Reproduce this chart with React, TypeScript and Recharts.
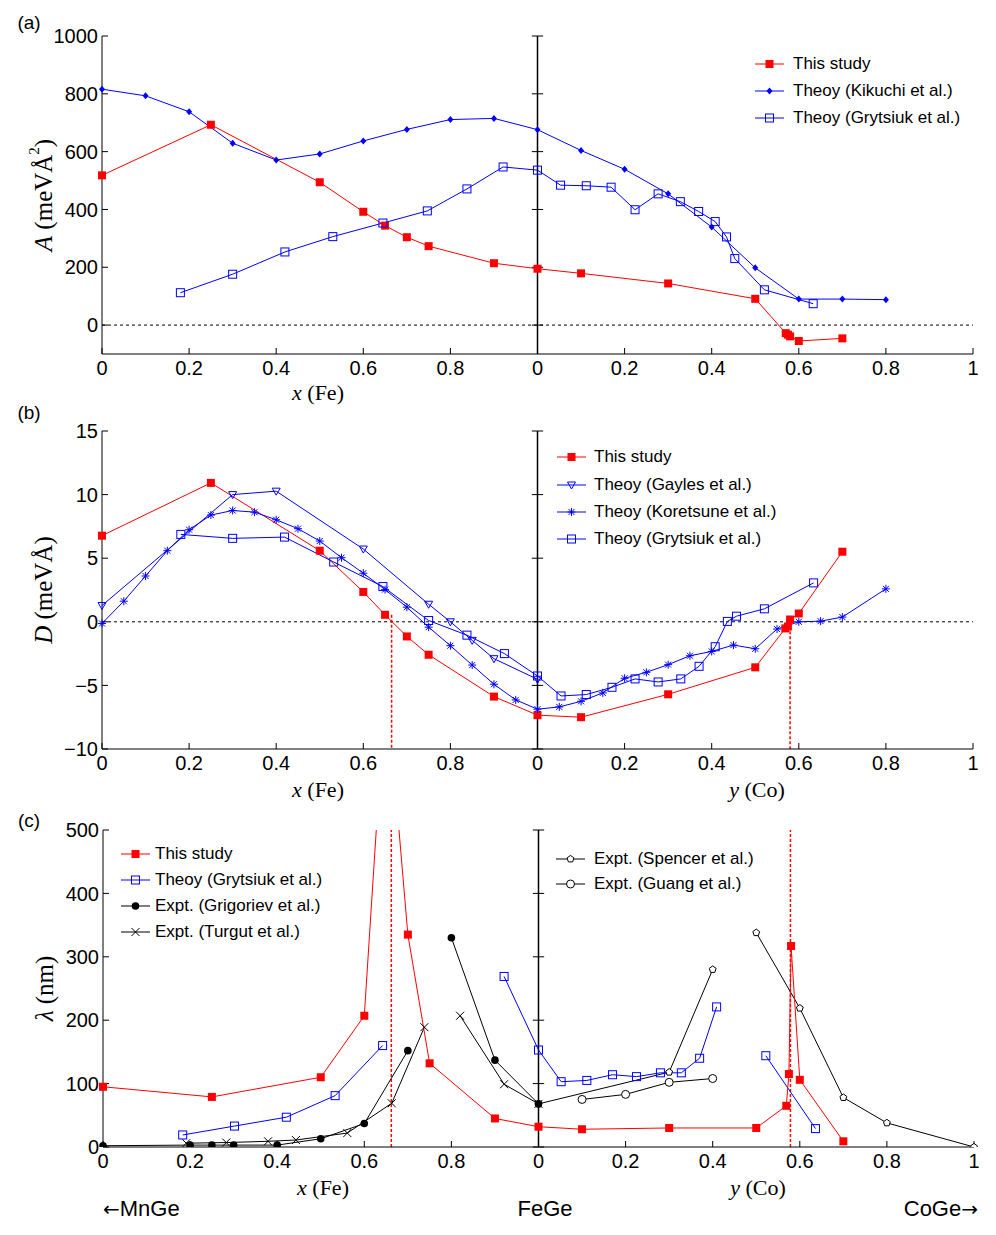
import React from 'react';
import { LineChart, Line, XAxis, YAxis, ReferenceLine } from 'recharts';

const SANS = '"Liberation Sans", Arial, Helvetica, sans-serif';
const SERIF = '"Liberation Serif", "Times New Roman", serif';
const RED = '#ff0000';
const BLUE = '#0000ff';
const BLACK = '#000000';

// shared x axis: 0..1 is x (Fe), 1..2 is y (Co)
const X_TICKS = [0, 0.2, 0.4, 0.6, 0.8, 1, 1.2, 1.4, 1.6, 1.8, 2];
const X_TICK_LABELS = ['0', '0.2', '0.4', '0.6', '0.8', '0', '0.2', '0.4', '0.6', '0.8', '1'];
const A_TICKS = [0, 200, 400, 600, 800, 1000];
const D_TICKS = [-10, -5, 0, 5, 10, 15];
const L_TICKS = [0, 100, 200, 300, 400, 500];

// ---- (a) stiffness A ----
const aStudyFe = [0, 0.25, 0.5, 0.6, 0.65, 0.7, 0.75, 0.9, 1];
const aStudyFeV = [518, 693, 494, 392, 344, 304, 273, 214, 195];
const aStudyCo = [0.1, 0.3, 0.5, 0.57, 0.575, 0.58, 0.6, 0.7];
const aStudyCoV = [179, 144, 91, -28, -33, -39, -55, -46];

const aKikuchiFe = [0, 0.1, 0.2, 0.3, 0.4, 0.5, 0.6, 0.7, 0.8, 0.9, 1];
const aKikuchiFeV = [816, 793, 738, 629, 571, 592, 637, 677, 711, 715, 676];
const aKikuchiCo = [0.1, 0.2, 0.3, 0.4, 0.5, 0.6, 0.7, 0.8];
const aKikuchiCoV = [604, 539, 454, 339, 198, 90, 90, 88];

const aGrytFe = [0.18, 0.3, 0.42, 0.53, 0.645, 0.747, 0.838, 0.921, 1];
const aGrytFeV = [112, 176, 253, 306, 353, 395, 471, 547, 536];
const aGrytCo = [0.053, 0.112, 0.169, 0.224, 0.277, 0.328, 0.37, 0.408, 0.434, 0.453, 0.521, 0.633];
const aGrytCoV = [484, 482, 477, 399, 454, 427, 393, 358, 305, 230, 122, 74];

// ---- (b) DMI D ----
const bStudyFe = [0, 0.25, 0.5, 0.6, 0.65, 0.7, 0.75, 0.9, 1];
const bStudyFeV = [6.77, 10.92, 5.59, 2.35, 0.55, -1.15, -2.59, -5.88, -7.34];
const bStudyCo = [0.1, 0.3, 0.5, 0.569, 0.575, 0.58, 0.6, 0.7];
const bStudyCoV = [-7.5, -5.7, -3.58, -0.52, -0.37, 0.18, 0.65, 5.51];

const bGaylesFe = [0, 0.3, 0.4, 0.6, 0.75, 0.8, 0.85, 0.9, 1];
const bGaylesFeV = [1.28, 10.0, 10.27, 5.72, 1.38, 0, -1.46, -2.9, -4.52];

const bKoretFe = [0, 0.05, 0.1, 0.15, 0.2, 0.25, 0.3, 0.35, 0.4, 0.45, 0.5, 0.55, 0.6, 0.65, 0.7, 0.75, 0.8, 0.85, 0.9, 0.95, 1];
const bKoretFeV = [-0.13, 1.62, 3.6, 5.59, 7.24, 8.39, 8.75, 8.62, 8.02, 7.32, 6.35, 5.04, 3.82, 2.53, 1.15, -0.42, -1.88, -3.4, -4.91, -6.14, -6.87];
const bKoretCo = [0.05, 0.1, 0.15, 0.2, 0.25, 0.3, 0.35, 0.4, 0.45, 0.5, 0.55, 0.6, 0.65, 0.7, 0.8];
const bKoretCoV = [-6.69, -6.25, -5.59, -4.44, -3.97, -3.37, -2.67, -2.33, -1.83, -2.12, -0.57, 0, 0.05, 0.37, 2.59];

const bGrytFe = [0.181, 0.3, 0.419, 0.532, 0.645, 0.75, 0.838, 0.924, 1];
const bGrytFeV = [6.87, 6.56, 6.66, 4.7, 2.77, 0.1, -1.05, -2.5, -4.26];
const bGrytCo = [0.054, 0.112, 0.171, 0.224, 0.277, 0.329, 0.371, 0.408, 0.436, 0.457, 0.521, 0.634];
const bGrytCoV = [-5.83, -5.72, -5.15, -4.49, -4.73, -4.49, -3.5, -1.96, 0.03, 0.44, 1.02, 3.06];

// zero crossings of D (red dashed markers)
const bCrossFe = [0.665, 0.55];
const bCrossCo = [0.58, 0.05];

// ---- (c) helix period lambda ----
const cStudyFe = [0, 0.25, 0.5, 0.6, 0.65, 0.7, 0.75, 0.9, 1];
const cStudyFeV = [95, 79, 110, 207, 740, 335, 132, 45, 32];
const cStudyCo = [0.1, 0.3, 0.5, 0.569, 0.575, 0.58, 0.6, 0.7];
const cStudyCoV = [28, 30, 30, 65, 115, 317, 106, 9];

const cGrytFe = [0.183, 0.302, 0.421, 0.533, 0.642, 0.8, 0.921, 1];
const cGrytFeV = [19, 33, 47, 81, 160, null, 269, 153];
const cGrytCo = [0.052, 0.111, 0.17, 0.225, 0.28, 0.328, 0.37, 0.409, 0.47, 0.522, 0.636];
const cGrytCoV = [103, 105, 114, 111, 117, 117, 140, 221, null, 144, 29];

const cGrigFe = [0, 0.2, 0.25, 0.3, 0.4, 0.5, 0.6, 0.7, 0.75, 0.8, 0.9, 1];
const cGrigFeV = [2, 3, 3, 3, 3, 13, 37, 152, null, 330, 137, 68];

const cTurgFe = [0.191, 0.283, 0.379, 0.443, 0.561, 0.663, 0.738, 0.78, 0.82, 0.921, 1];
const cTurgFeV = [6, 7, 9, 11, 22, 69, 189, null, 207, 99, 68];

const cSpenCo = [0, 0.3, 0.4, 0.45, 0.5, 0.6, 0.7, 0.8, 1];
const cSpenCoV = [68, 118, 280, null, 338, 219, 78, 38, 0];

const cGuangCo = [0.1, 0.2, 0.3, 0.4];
const cGuangCoV = [75, 83, 102, 108];

const cCrossFe = 0.662;
const cCrossCo = 0.5785;

type Pt = { x: number; v: number | null };

function join(feX: number[], feV: (number | null)[], coY: number[] = [], coV: (number | null)[] = []): Pt[] {
  return [
    ...feX.map((x, i) => ({ x, v: feV[i] })),
    ...coY.map((y, i) => ({ x: 1 + y, v: coV[i] })),
  ];
}

type Kind = 'sq' | 'osq' | 'dia' | 'tri' | 'star' | 'dot' | 'x' | 'pent' | 'circ';

function Marker({ kind, cx, cy, color }: { kind: Kind; cx: number; cy: number; color: string }) {
  switch (kind) {
    case 'sq':
      return <rect x={cx - 4} y={cy - 4} width={8} height={8} fill={color} />;
    case 'osq':
      return <rect x={cx - 4} y={cy - 4} width={8} height={8} fill="none" stroke={color} strokeWidth={1} />;
    case 'dia':
      return <polygon points={`${cx},${cy - 3.5} ${cx + 3},${cy} ${cx},${cy + 3.5} ${cx - 3},${cy}`} fill={color} />;
    case 'tri':
      return <polygon points={`${cx - 4},${cy - 3} ${cx + 4},${cy - 3} ${cx},${cy + 4}`} fill="none" stroke={color} strokeWidth={1} />;
    case 'star':
      return (
        <g stroke={color} strokeWidth={1}>
          <line x1={cx - 4} y1={cy} x2={cx + 4} y2={cy} />
          <line x1={cx} y1={cy - 4} x2={cx} y2={cy + 4} />
          <line x1={cx - 3} y1={cy - 3} x2={cx + 3} y2={cy + 3} />
          <line x1={cx - 3} y1={cy + 3} x2={cx + 3} y2={cy - 3} />
        </g>
      );
    case 'dot':
      return <circle cx={cx} cy={cy} r={3.8} fill={color} />;
    case 'x':
      return (
        <g stroke={color} strokeWidth={1}>
          <line x1={cx - 4} y1={cy - 4} x2={cx + 4} y2={cy + 4} />
          <line x1={cx - 4} y1={cy + 4} x2={cx + 4} y2={cy - 4} />
        </g>
      );
    case 'pent': {
      const pts = [0, 1, 2, 3, 4]
        .map((i) => {
          const a = ((-90 + 72 * i) * Math.PI) / 180;
          return `${cx + 3.6 * Math.cos(a)},${cy + 3.6 * Math.sin(a)}`;
        })
        .join(' ');
      return <polygon points={pts} fill="#fff" stroke={color} strokeWidth={1} />;
    }
    case 'circ':
      return <circle cx={cx} cy={cy} r={4} fill="#fff" stroke={color} strokeWidth={1} />;
    default:
      return null;
  }
}

const dotOf = (kind: Kind, color: string) => (p: any) => {
  if (p.cx == null || p.cy == null || p.payload?.v == null) return <g key={`d${p.index}`} />;
  return <Marker key={`d${p.index}`} kind={kind} cx={p.cx} cy={p.cy} color={color} />;
};

const fmtX = (v: number) => {
  const i = X_TICKS.indexOf(v);
  return i >= 0 ? X_TICK_LABELS[i] : String(v);
};
const fmtY = (v: number) => (v < 0 ? `\u2212${-v}` : `${v}`);

function YTitle({ viewBox, sym, unit, sup }: any) {
  const cx = viewBox.x + 1;
  const cy = viewBox.y + viewBox.height / 2;
  return (
    <text
      x={cx}
      y={cy}
      transform={`rotate(-90 ${cx} ${cy})`}
      textAnchor="middle"
      dominantBaseline="central"
      fontFamily={SERIF}
      fontSize={25}
      fill={BLACK}
    >
      <tspan fontStyle="italic">{sym}</tspan>
      <tspan> ({unit}</tspan>
      {sup ? (
        <tspan dy={-9} fontSize={15}>
          {sup}
        </tspan>
      ) : null}
      <tspan dy={sup ? 9 : 0}>)</tspan>
    </text>
  );
}

const tickStyle = { fill: BLACK, fontSize: 20, fontFamily: SANS };

// frame: bottom/left labelled axes plus bare top/right axes, all with inward ticks
function frameAxes(domain: [number, number], ticks: number[], title: React.ReactElement, overflow = false) {
  return [
    <XAxis
      key="xb"
      type="number"
      dataKey="x"
      domain={[0, 2]}
      ticks={X_TICKS}
      interval={0}
      tickFormatter={fmtX}
      tick={tickStyle}
      height={30}
      tickSize={-6}
      tickMargin={13}
      axisLine={{ stroke: BLACK }}
      tickLine={{ stroke: BLACK }}
    />,
    <XAxis
      key="xt"
      xAxisId="top"
      orientation="top"
      type="number"
      dataKey="x"
      domain={[0, 2]}
      ticks={X_TICKS}
      interval={0}
      tick={false}
      height={0}
      tickSize={-6}
      axisLine={{ stroke: BLACK }}
      tickLine={{ stroke: BLACK }}
    />,
    <YAxis
      key="yl"
      type="number"
      domain={domain}
      ticks={ticks}
      interval={0}
      allowDataOverflow={overflow}
      tickFormatter={fmtY}
      tick={tickStyle}
      width={60}
      tickSize={-6}
      tickMargin={10}
      axisLine={{ stroke: BLACK }}
      tickLine={{ stroke: BLACK }}
      label={title}
    />,
    <YAxis
      key="yr"
      yAxisId="r"
      orientation="right"
      type="number"
      domain={domain}
      ticks={ticks}
      interval={0}
      tick={false}
      width={0}
      tickSize={-6}
      axisLine={{ stroke: BLACK }}
      tickLine={{ stroke: BLACK }}
    />,
  ];
}

// FeGe divider with its own small ticks on both sides
function divider(ticks: number[]) {
  return [
    <ReferenceLine key="fege" x={1} stroke={BLACK} strokeWidth={1.5} />,
    ...ticks.map((t) => (
      <ReferenceLine
        key={`fege${t}`}
        segment={[{ x: 0.987, y: t }, { x: 1.013, y: t }]}
        stroke={BLACK}
        strokeWidth={1}
      />
    )),
  ];
}

function series(key: string, data: Pt[], color: string, kind: Kind) {
  return (
    <Line
      key={key}
      data={data}
      dataKey="v"
      type="linear"
      stroke={color}
      strokeWidth={1}
      dot={dotOf(kind, color)}
      activeDot={false}
      connectNulls={false}
      isAnimationActive={false}
    />
  );
}

type LegendItem = { label: string; kind: Kind; color: string };

function Legend({ lineX, textX, ys, items }: { lineX: number; textX: number; ys: number[]; items: LegendItem[] }) {
  const w = 29;
  return (
    <>
      {items.map((it, i) => (
        <div key={it.label} style={{ position: 'absolute', left: lineX, top: ys[i] - 10, height: 20, display: 'flex', alignItems: 'center' }}>
          <svg width={w} height={20} style={{ display: 'block' }}>
            <line x1={0} y1={10} x2={w} y2={10} stroke={it.color} strokeWidth={1} />
            <Marker kind={it.kind} cx={w / 2} cy={10} color={it.color} />
          </svg>
          <span style={{ position: 'absolute', left: textX - lineX, whiteSpace: 'nowrap', fontFamily: SANS, fontSize: 17, color: BLACK }}>
            {it.label}
          </span>
        </div>
      ))}
    </>
  );
}

function Txt({ x, y, children, family = SANS, size = 19, anchor = 'middle' }: any) {
  const tx = anchor === 'middle' ? '-50%' : anchor === 'end' ? '-100%' : '0';
  return (
    <div
      style={{
        position: 'absolute',
        left: x,
        top: y,
        transform: `translate(${tx}, -50%)`,
        whiteSpace: 'nowrap',
        fontFamily: family,
        fontSize: size,
        color: BLACK,
        lineHeight: 1,
      }}
    >
      {children}
    </div>
  );
}

const arrowFont = { fontFamily: '"DejaVu Sans", sans-serif', fontSize: 20 };

export default function App() {
  const W = 996;
  return (
    <div style={{ position: 'absolute', left: 0, top: 0, width: W, height: 1235, background: '#fff' }}>
      {/* (a) */}
      <div style={{ position: 'absolute', left: 0, top: 0 }}>
        <LineChart width={W} height={410} margin={{ top: 36, right: 23, bottom: 26, left: 42 }}>
          {frameAxes([-100, 1000], A_TICKS, <YTitle sym="A" unit="meVÅ" sup="2" />)}
          <ReferenceLine y={0} stroke={BLACK} strokeDasharray="3 3" />
          {divider(A_TICKS)}
          {series('as', join(aStudyFe, aStudyFeV, aStudyCo, aStudyCoV), RED, 'sq')}
          {series('ak', join(aKikuchiFe, aKikuchiFeV, aKikuchiCo, aKikuchiCoV), BLUE, 'dia')}
          {series('ag', join(aGrytFe, aGrytFeV, aGrytCo, aGrytCoV), BLUE, 'osq')}
        </LineChart>
      </div>
      {/* (b) */}
      <div style={{ position: 'absolute', left: 0, top: 400 }}>
        <LineChart width={W} height={410} margin={{ top: 31, right: 23, bottom: 31, left: 42 }}>
          {frameAxes([-10, 15], D_TICKS, <YTitle sym="D" unit="meVÅ" />)}
          <ReferenceLine y={0} stroke={BLACK} strokeDasharray="3 3" />
          {divider(D_TICKS)}
          <ReferenceLine
            segment={[{ x: bCrossFe[0], y: bCrossFe[1] }, { x: bCrossFe[0], y: -10 }]}
            stroke={RED}
            strokeWidth={1.5}
            strokeDasharray="3 2"
          />
          <ReferenceLine
            segment={[{ x: 1 + bCrossCo[0], y: bCrossCo[1] }, { x: 1 + bCrossCo[0], y: -10 }]}
            stroke={RED}
            strokeWidth={1.5}
            strokeDasharray="3 2"
          />
          {series('bs', join(bStudyFe, bStudyFeV, bStudyCo, bStudyCoV), RED, 'sq')}
          {series('bga', join(bGaylesFe, bGaylesFeV), BLUE, 'tri')}
          {series('bk', join(bKoretFe, bKoretFeV, bKoretCo, bKoretCoV), BLUE, 'star')}
          {series('bg', join(bGrytFe, bGrytFeV, bGrytCo, bGrytCoV), BLUE, 'osq')}
        </LineChart>
      </div>
      {/* (c) */}
      <div style={{ position: 'absolute', left: 0, top: 800 }}>
        <LineChart width={W} height={435} margin={{ top: 30, right: 22, bottom: 58, left: 43 }}>
          {frameAxes([0, 500], L_TICKS, <YTitle sym="λ" unit="nm" />, true)}
          {divider(L_TICKS)}
          <ReferenceLine x={cCrossFe} stroke={RED} strokeWidth={1.5} strokeDasharray="3 2" />
          <ReferenceLine x={1 + cCrossCo} stroke={RED} strokeWidth={1.5} strokeDasharray="3 2" />
          {series('csp', join([], [], cSpenCo, cSpenCoV), BLACK, 'pent')}
          {series('cgu', join([], [], cGuangCo, cGuangCoV), BLACK, 'circ')}
          {series('ctu', join(cTurgFe, cTurgFeV), BLACK, 'x')}
          {series('cgr', join(cGrigFe, cGrigFeV), BLACK, 'dot')}
          {series('cgy', join(cGrytFe, cGrytFeV, cGrytCo, cGrytCoV), BLUE, 'osq')}
          {series('cs', join(cStudyFe, cStudyFeV, cStudyCo, cStudyCoV), RED, 'sq')}
        </LineChart>
      </div>

      <Txt x={29} y={22}>(a)</Txt>
      <Txt x={29} y={412}>(b)</Txt>
      <Txt x={29} y={820}>(c)</Txt>

      <Txt x={318} y={393} family={SERIF} size={22}><i>x</i> (Fe)</Txt>
      <Txt x={318} y={790} family={SERIF} size={22}><i>x</i> (Fe)</Txt>
      <Txt x={757} y={790} family={SERIF} size={22}><i>y</i> (Co)</Txt>
      <Txt x={323} y={1188} family={SERIF} size={22}><i>x</i> (Fe)</Txt>
      <Txt x={758} y={1188} family={SERIF} size={22}><i>y</i> (Co)</Txt>

      <Txt x={103} y={1209} size={22} anchor="start"><span style={arrowFont}>←</span>MnGe</Txt>
      <Txt x={545} y={1209} size={22}>FeGe</Txt>
      <Txt x={978} y={1209} size={22} anchor="end">CoGe<span style={arrowFont}>→</span></Txt>

      <Legend
        lineX={755}
        textX={793}
        ys={[64, 91, 118]}
        items={[
          { label: 'This study', kind: 'sq', color: RED },
          { label: 'Theoy (Kikuchi et al.)', kind: 'dia', color: BLUE },
          { label: 'Theoy (Grytsiuk et al.)', kind: 'osq', color: BLUE },
        ]}
      />
      <Legend
        lineX={557}
        textX={594}
        ys={[457, 485, 512, 539]}
        items={[
          { label: 'This study', kind: 'sq', color: RED },
          { label: 'Theoy (Gayles et al.)', kind: 'tri', color: BLUE },
          { label: 'Theoy (Koretsune et al.)', kind: 'star', color: BLUE },
          { label: 'Theoy (Grytsiuk et al.)', kind: 'osq', color: BLUE },
        ]}
      />
      <Legend
        lineX={121}
        textX={155}
        ys={[854, 880, 906, 932]}
        items={[
          { label: 'This study', kind: 'sq', color: RED },
          { label: 'Theoy (Grytsiuk et al.)', kind: 'osq', color: BLUE },
          { label: 'Expt. (Grigoriev et al.)', kind: 'dot', color: BLACK },
          { label: 'Expt. (Turgut et al.)', kind: 'x', color: BLACK },
        ]}
      />
      <Legend
        lineX={556}
        textX={594}
        ys={[859, 884]}
        items={[
          { label: 'Expt. (Spencer et al.)', kind: 'pent', color: BLACK },
          { label: 'Expt. (Guang et al.)', kind: 'circ', color: BLACK },
        ]}
      />
    </div>
  );
}
